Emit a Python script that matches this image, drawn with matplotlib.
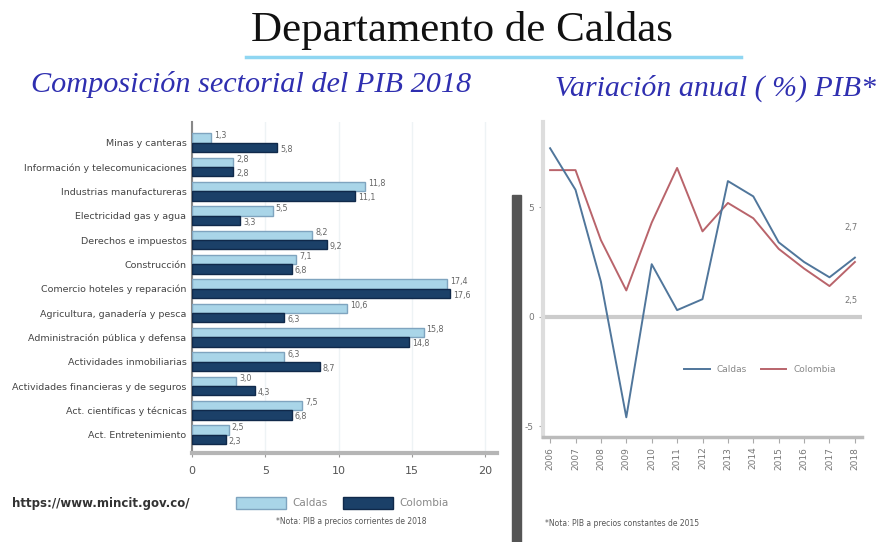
import matplotlib
matplotlib.use("Agg")
import matplotlib.pyplot as plt
from matplotlib.patches import Patch, Rectangle
from matplotlib.lines import Line2D
import numpy as np

# ---------------- data ----------------
sectores = ["Minas y canteras", "Información y telecomunicaciones",
            "Industrias manufactureras", "Electricidad gas y agua",
            "Derechos e impuestos", "Construcción",
            "Comercio hoteles y reparación", "Agricultura, ganadería y pesca",
            "Administración pública y defensa", "Actividades inmobiliarias",
            "Actividades financieras y de seguros", "Act. científicas y técnicas",
            "Act. Entretenimiento"]
caldas_pib = [1.3, 2.8, 11.8, 5.5, 8.2, 7.1, 17.4, 10.6, 15.8, 6.3, 3.0, 7.5, 2.5]
colombia_pib = [5.8, 2.8, 11.1, 3.3, 9.2, 6.8, 17.6, 6.3, 14.8, 8.7, 4.3, 6.8, 2.3]

anios = ["2006", "2007", "2008", "2009", "2010", "2011", "2012",
         "2013", "2014", "2015", "2016", "2017", "2018"]
caldas_var = [7.7, 5.8, 1.6, -4.6, 2.4, 0.3, 0.8, 6.2, 5.5, 3.4, 2.5, 1.8, 2.7]
colombia_var = [6.7, 6.7, 3.5, 1.2, 4.3, 6.8, 3.9, 5.2, 4.5, 3.1, 2.2, 1.4, 2.5]
end_labels = ["2,7", "2,5"]

def fmt(v):
    return f"{v:.1f}".replace(".", ",")

W, H = 877, 542
fig = plt.figure(figsize=(W / 100, H / 100), dpi=100)
fig.patch.set_facecolor("white")

def fx(px):
    return px / W

def fy(py):
    return 1 - py / H

# ---------------- titles ----------------
fig.text(fx(462), fy(30), "Departamento de Caldas", family="Liberation Serif",
         fontsize=31, ha="center", va="center", color="#111111")
fig.add_artist(Line2D([fx(246), fx(741)], [fy(57), fy(57)], color="#8fd6f2", lw=2.5))
sub_color = "#2f2fb0"
fig.text(fx(251), fy(85), "Composición sectorial del PIB 2018", family="Liberation Serif",
         style="italic", fontsize=21.8, ha="center", va="center", color=sub_color)
fig.text(fx(555), fy(88), "Variación anual ( %) PIB*", family="Liberation Serif",
         style="italic", fontsize=21.5, ha="left", va="center", color=sub_color)

# separator bar
fig.add_artist(Rectangle((fx(512), 0), fx(9), fy(195), color="#555555",
                         transform=fig.transFigure))

# ---------------- bar chart ----------------
ax = fig.add_axes([fx(192), fy(453), fx(497 - 192), (453 - 122) / H])
y = np.arange(len(sectores))
h = 0.38
c_light, c_light_edge = "#a9d5e8", "#7fa4bf"
c_dark, c_dark_edge = "#1b4068", "#10294a"
ax.barh(y - h / 2, caldas_pib, height=h, color=c_light, edgecolor=c_light_edge, lw=1.0, zorder=3)
ax.barh(y + h / 2, colombia_pib, height=h, color=c_dark, edgecolor=c_dark_edge, lw=1.0, zorder=3)
for i in range(len(sectores)):
    ax.text(caldas_pib[i] + 0.2, y[i] - h / 2 - 0.12, fmt(caldas_pib[i]), fontsize=5.8,
            color="#666666", va="center", ha="left", zorder=4)
    ax.text(colombia_pib[i] + 0.2, y[i] + h / 2 + 0.08, fmt(colombia_pib[i]), fontsize=5.8,
            color="#666666", va="center", ha="left", zorder=4)
ax.set_ylim(len(sectores) - 0.25, -0.85)
ax.set_xlim(0, 20.8)
ax.set_xticks([0, 5, 10, 15, 20])
ax.set_yticks(y)
ax.set_yticklabels(sectores, fontsize=6.8, color="#444444")
ax.tick_params(axis="y", length=0, pad=4)
ax.tick_params(axis="x", length=3, color="#999999", labelsize=8, labelcolor="#555555", pad=6)
ax.grid(axis="x", color="#eef3f5", lw=1, zorder=0)
for s in ["top", "right"]:
    ax.spines[s].set_visible(False)
ax.spines["left"].set_color("#888888")
ax.spines["left"].set_linewidth(1.5)
ax.spines["bottom"].set_color("#b5b5b5")
ax.spines["bottom"].set_linewidth(3)

# bottom legend & notes
fig.text(fx(12), fy(504), "https://www.mincit.gov.co/", fontsize=8.5, weight="bold",
         color="#333333", ha="left", va="center")
fig.legend(handles=[Patch(facecolor=c_light, edgecolor=c_light_edge, label="Caldas"),
                    Patch(facecolor=c_dark, edgecolor=c_dark_edge, label="Colombia")],
           loc="center", bbox_to_anchor=(fx(342), fy(503)), ncol=2, frameon=False,
           fontsize=7.5, handlelength=4.8, handleheight=1.4, columnspacing=1.5,
           handletextpad=0.6, labelcolor="#888888")
fig.text(fx(351), fy(522), "*Nota: PIB a precios corrientes de 2018", fontsize=5.5,
         color="#555555", ha="center", va="center")

# ---------------- line chart ----------------
ax2 = fig.add_axes([fx(543), fy(437), fx(862 - 543), (437 - 122) / H])
x = np.arange(len(anios))
c_blue, c_red = "#50769b", "#b9646b"
ax2.axhline(0, color="#cccccc", lw=3, zorder=1)
ax2.plot(x, caldas_var, color=c_blue, lw=1.4, label="Caldas", zorder=3)
ax2.plot(x, colombia_var, color=c_red, lw=1.4, label="Colombia", zorder=2)
ax2.annotate(end_labels[0], (x[-1], caldas_var[-1]), xytext=(-3, 22), textcoords="offset points",
             fontsize=6, color="#777777", ha="center", va="center")
ax2.annotate(end_labels[1], (x[-1], colombia_var[-1]), xytext=(-3, -28), textcoords="offset points",
             fontsize=6, color="#777777", ha="center", va="center")
ax2.set_xlim(-0.28, 12.28)
ax2.set_ylim(-5.5, 8.9)
ax2.set_yticks([-5, 0, 5])
ax2.set_yticklabels(["-5", "0", "5"])
ax2.set_xticks(x)
ax2.set_xticklabels(anios, rotation=90, fontsize=6.5, color="#777777")
ax2.tick_params(axis="y", labelsize=6.5, labelcolor="#777777", length=3, color="#aaaaaa")
ax2.tick_params(axis="x", length=4, color="#aaaaaa", pad=3)
for s in ["top", "right"]:
    ax2.spines[s].set_visible(False)
ax2.spines["left"].set_color("#dddddd")
ax2.spines["left"].set_linewidth(3)
ax2.spines["bottom"].set_color("#bbbbbb")
ax2.spines["bottom"].set_linewidth(2.5)
ax2.legend(loc="center", bbox_to_anchor=(0.68, 0.213), ncol=2, frameon=False, fontsize=6.5,
           handlelength=2.8, columnspacing=1.5, labelcolor="#888888")
fig.text(fx(545), fy(524), "*Nota: PIB a precios constantes de 2015", fontsize=5.5,
         color="#555555", ha="left", va="center")

fig.savefig("out.png", dpi=100)
